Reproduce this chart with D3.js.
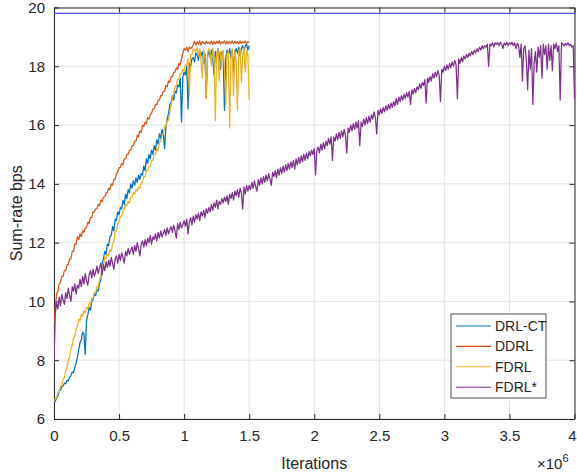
<!DOCTYPE html>
<html><head><meta charset="utf-8">
<script src="https://cdn.jsdelivr.net/npm/d3@7"></script>
<style>
body{margin:0;background:#fff}
svg{display:block}
text{font-family:"Liberation Sans",Arial,Helvetica,sans-serif;fill:#262626}
</style>
</head><body>
<svg id="c" width="577" height="475"></svg>
<script>
// ---------------- data ----------------
const xTicks = [0, 0.5, 1, 1.5, 2, 2.5, 3, 3.5, 4];        // iterations, x10^6
const yTicks = [6, 8, 10, 12, 14, 16, 18, 20];
const seriesNames = ["DRL-CT", "DDRL", "FDRL", "FDRL*"];
const seriesColors = ["#0072BD", "#D95319", "#EDB120", "#7E2F8E"];
const upperBound = 19.8;
const stepShort = 0.01;   // x10^6 iterations between samples (first three series)
const stepLong = 0.01;    // x10^6 iterations between samples (FDRL*)

const drlCT = [
  6.55,6.6,6.72,6.78,6.95,6.98,7.1,7.12,7.22,7.2,
  7.32,7.3,7.42,7.48,7.6,7.58,7.75,7.9,8.1,8.35,
  8.6,8.7,8.95,8.9,8.2,9.35,9.55,9.8,9.7,10.0,
  10.05,10.25,10.2,10.4,10.35,10.6,10.75,11.3,11.45,11.7,
  11.6,11.95,11.9,12.2,12.25,12.55,12.4,12.8,12.75,13.05,
  12.95,13.2,13.15,13.45,13.3,13.65,13.5,13.8,13.7,14.0,
  13.85,14.1,13.95,14.2,14.05,14.3,14.15,14.35,14.3,14.6,
  14.45,14.85,14.7,15.0,14.85,15.15,15.0,15.3,15.15,15.5,
  15.35,15.7,15.55,15.85,15.7,15.2,15.95,16.2,16.4,16.7,
  16.75,17.0,16.85,17.15,17.1,17.35,17.3,17.6,16.1,17.65,
  17.8,17.7,18.0,16.55,18.1,18.0,18.25,18.3,18.15,18.45,
  18.4,18.2,18.55,18.35,18.5,18.1,18.45,16.95,18.35,18.55,
  18.3,18.55,18.2,17.7,18.5,18.3,18.6,18.4,17.9,18.5,
  18.35,16.5,18.25,18.55,18.4,18.6,18.3,18.55,17.8,18.5,
  18.6,18.45,18.65,18.35,18.6,18.7,18.5,18.7,18.75,18.55,
  18.7
];
const ddrl = [
  9.2,9.8,10.25,10.35,10.6,10.65,10.85,10.85,11.05,11.05,
  11.25,11.25,11.45,11.45,11.7,11.7,11.95,11.95,12.2,12.1,
  12.3,12.2,12.4,12.35,12.5,12.5,12.7,12.65,12.85,12.85,
  13.05,13.05,13.15,13.15,13.3,13.25,13.45,13.4,13.55,13.55,
  13.7,13.7,13.85,13.8,14.0,13.95,14.15,14.15,14.35,14.4,
  14.55,14.55,14.7,14.65,14.85,14.85,15.0,15.0,15.15,15.15,
  15.3,15.3,15.45,15.45,15.65,15.6,15.8,15.75,16.0,15.95,
  16.1,16.05,16.25,16.2,16.35,16.4,16.55,16.55,16.7,16.7,
  16.85,16.85,17.0,17.0,17.15,17.15,17.35,17.3,17.5,17.45,
  17.65,17.65,17.8,17.8,17.95,17.9,18.1,18.05,18.25,18.45,
  18.6,18.55,18.65,18.5,18.65,18.6,18.65,18.72,18.85,18.72,
  18.84,18.75,18.86,18.72,18.84,18.8,18.76,18.85,18.78,18.82,
  18.76,18.86,18.74,18.84,18.76,18.85,18.78,18.87,18.75,18.83,
  18.79,18.86,18.76,18.85,18.77,18.84,18.79,18.86,18.76,18.85,
  18.78,18.84,18.77,18.86,18.78,18.84,18.8,18.86,18.78,18.84,
  18.82
];
const fdrl = [
  6.6,6.7,6.72,6.9,6.92,7.1,7.12,7.35,7.4,7.65,
  7.75,8.0,8.1,8.4,8.5,8.75,8.8,9.05,9.15,9.4,
  9.35,9.55,9.5,9.7,9.6,9.8,9.75,9.95,9.9,10.1,
  10.1,10.3,10.3,10.5,10.5,10.75,10.85,11.15,11.25,11.5,
  11.45,11.6,11.55,11.75,11.7,11.95,12.05,12.35,12.4,12.65,
  12.7,12.9,12.9,13.1,13.15,13.3,13.25,13.4,13.35,13.55,
  13.55,13.7,13.65,13.8,13.75,13.9,13.85,14.05,14.05,14.25,
  14.25,14.45,14.45,14.6,14.6,14.8,14.8,15.0,15.0,15.2,
  15.15,15.4,15.45,15.65,15.7,15.95,15.95,16.15,16.15,16.45,
  16.65,16.95,17.05,17.3,17.35,17.55,17.55,17.75,17.75,17.9,
  17.85,18.05,18.05,18.25,17.0,18.4,18.4,18.6,18.55,18.5,
  18.65,18.35,18.6,18.15,17.6,18.55,18.25,16.9,18.45,18.6,
  18.45,18.05,18.6,18.25,16.15,18.45,18.6,17.5,18.5,18.15,
  18.55,17.9,16.7,18.45,18.5,15.9,18.25,18.6,17.0,18.5,
  18.15,16.5,18.55,18.6,17.45,18.35,18.65,17.8,18.55,18.4,
  16.85
];
const fdrlStar = [
  7.9,9.6,9.95,9.75,10.15,9.85,10.25,10.05,9.9,10.3,
  10.1,10.45,10.2,10.0,10.5,10.35,10.6,10.25,10.55,10.45,
  10.75,10.5,10.85,10.6,10.95,10.7,10.55,10.9,11.05,10.8,
  11.1,10.85,11.0,11.2,10.95,11.15,11.3,10.9,11.25,11.05,
  11.35,11.15,11.4,11.2,11.5,11.3,11.1,11.45,11.55,11.3,
  11.6,11.4,11.65,11.5,11.3,11.7,11.55,11.8,11.6,11.75,
  11.85,11.6,11.9,11.7,12.0,11.8,11.55,11.95,12.05,11.85,
  12.1,11.9,12.15,12.0,12.25,11.95,12.2,12.1,12.3,12.05,
  12.35,12.15,12.4,12.2,12.3,12.45,12.25,12.5,12.3,12.45,
  12.55,12.35,12.6,12.4,12.15,12.65,12.45,12.7,12.5,12.6,
  12.75,12.55,12.8,12.3,12.7,12.85,12.6,12.9,12.7,12.95,
  12.8,13.0,12.75,13.05,12.9,13.1,12.85,13.15,13.0,13.2,
  13.05,13.3,13.1,13.35,13.2,13.45,13.15,13.4,13.3,13.5,
  13.35,13.55,13.4,13.6,13.3,13.65,13.5,13.7,13.45,13.75,
  13.6,13.8,13.55,13.85,13.7,13.15,13.9,13.65,13.95,13.75,
  13.95,13.8,14.05,13.85,14.1,13.9,13.75,14.15,13.95,14.2,
  14.0,14.25,14.05,14.3,14.1,14.35,14.15,13.95,14.4,14.25,
  14.45,14.2,14.5,14.3,14.55,14.35,14.6,14.4,14.65,14.45,
  14.7,14.5,14.75,14.55,14.8,14.5,14.85,14.65,14.9,14.7,
  14.95,14.75,15.0,14.8,15.05,14.85,15.1,14.95,15.15,15.0,
  15.2,14.3,15.15,15.25,15.05,15.35,15.15,15.4,15.2,15.45,
  15.3,15.55,15.35,15.6,14.8,15.6,15.45,15.7,15.5,15.75,
  15.55,15.8,15.6,15.85,15.65,15.05,15.9,15.75,16.0,15.8,
  16.05,15.85,16.1,15.9,16.15,15.3,16.1,15.95,16.2,16.0,
  16.25,16.05,16.3,16.1,16.35,16.2,16.45,16.25,15.7,16.5,
  16.35,16.55,16.4,16.6,16.45,16.65,16.5,16.7,16.55,16.75,
  16.6,16.8,16.65,16.9,16.7,16.95,16.8,17.0,16.85,17.05,
  16.9,17.1,16.95,17.15,16.7,17.2,17.05,17.25,17.1,17.3,
  17.2,17.4,17.25,17.45,17.35,17.55,16.75,17.6,17.45,17.65,
  17.5,17.75,17.6,17.8,17.65,17.85,17.7,16.8,17.9,17.8,
  18.0,17.85,18.05,17.9,18.1,17.95,18.15,18.0,18.2,18.05,
  16.9,18.25,18.1,18.3,18.15,18.35,18.25,18.4,18.3,18.45,
  18.35,18.5,18.4,18.55,18.45,18.6,18.5,18.65,18.55,18.7,
  18.6,18.7,18.65,18.75,18.0,18.75,18.7,18.8,18.65,18.8,
  18.75,18.8,18.7,18.82,18.75,18.6,18.8,18.72,18.82,18.7,
  18.8,18.75,18.82,18.7,18.8,18.6,18.78,18.7,18.3,18.75,
  17.5,18.6,18.7,18.2,17.2,18.55,17.9,18.6,16.7,18.1,
  18.5,17.8,18.65,18.3,18.7,17.6,18.75,18.4,18.7,17.9,
  18.75,18.2,18.7,17.85,18.75,18.6,18.8,18.5,18.7,16.85,
  18.8,18.75,18.7,18.78,18.72,18.8,18.7,18.75,18.65,18.7,
  16.9
];

// ---------------- chart ----------------
const svg = d3.select("#c");
const L = 54, R = 574.5, T = 7.5, B = 419;
const x = d3.scaleLinear().domain([0, 4]).range([L, R]);
const y = d3.scaleLinear().domain([6, 20]).range([B, T]);
const axisCol = "#262626";

// grid
const grid = svg.append("g");
grid.selectAll("line.gx").data(xTicks).enter().append("line")
  .attr("x1", d => x(d)).attr("x2", d => x(d)).attr("y1", T).attr("y2", B)
  .attr("stroke", "#e3e3e3").attr("stroke-width", 1);
grid.selectAll("line.gy").data(yTicks).enter().append("line")
  .attr("x1", L).attr("x2", R).attr("y1", d => y(d)).attr("y2", d => y(d))
  .attr("stroke", "#e3e3e3").attr("stroke-width", 1);

// axes
const fmt = d3.format("~g");
const gB = svg.append("g").attr("transform", `translate(0,${B})`)
  .call(d3.axisBottom(x).tickValues(xTicks).tickFormat(fmt).tickSizeInner(-5).tickSizeOuter(0).tickPadding(11));
const gT = svg.append("g").attr("transform", `translate(0,${T})`)
  .call(d3.axisTop(x).tickValues(xTicks).tickFormat("").tickSizeInner(-5).tickSizeOuter(0));
const gL = svg.append("g").attr("transform", `translate(${L},0)`)
  .call(d3.axisLeft(y).tickValues(yTicks).tickFormat(fmt).tickSizeInner(-5).tickSizeOuter(0).tickPadding(9));
const gR = svg.append("g").attr("transform", `translate(${R},0)`)
  .call(d3.axisRight(y).tickValues(yTicks).tickFormat("").tickSizeInner(-5).tickSizeOuter(0));
[gB, gT, gL, gR].forEach(g => {
  g.select(".domain").attr("stroke", axisCol).attr("stroke-width", 1);
  g.selectAll(".tick line").attr("stroke", axisCol).attr("stroke-width", 1);
  g.selectAll(".tick text").attr("fill", axisCol).style("font-size", "15px")
    .style("font-family", "'Liberation Sans', Arial, sans-serif");
});
gB.selectAll(".tick text").filter(d => d === 4).attr("dx", -2.5);

// clip
svg.append("clipPath").attr("id", "clip").append("rect")
  .attr("x", L).attr("y", T - 1).attr("width", R - L + 1).attr("height", B - T + 2);
const plot = svg.append("g").attr("clip-path", "url(#clip)");

// upper bound line
plot.append("line").attr("x1", x(0)).attr("x2", x(4))
  .attr("y1", y(upperBound)).attr("y2", y(upperBound))
  .attr("stroke", "#4b4bff").attr("stroke-width", 1.1);

const allSeries = [
  {vals: drlCT, step: stepShort},
  {vals: ddrl, step: stepShort},
  {vals: fdrl, step: stepShort},
  {vals: fdrlStar, step: stepLong}
];
const line = d3.line().x(d => x(d[0])).y(d => y(d[1]));
allSeries.forEach((s, k) => {
  const pts = s.vals.map((v, i) => [i * s.step, v]);
  plot.append("path").datum(pts).attr("d", line)
    .attr("fill", "none").attr("stroke", seriesColors[k])
    .attr("stroke-width", 1.25).attr("stroke-linejoin", "round");
});

// axis labels
svg.append("text").attr("x", (L + R) / 2).attr("y", 469).attr("text-anchor", "middle")
  .style("font-size", "16px").text("Iterations");
svg.append("text").attr("transform", `translate(22,${(T + B) / 2}) rotate(-90)`)
  .attr("text-anchor", "middle").style("font-size", "16px").text("Sum-rate bps");
const mult = svg.append("text").attr("x", 537).attr("y", 469).style("font-size", "15px");
mult.append("tspan").text("\u00d710");
mult.append("tspan").attr("dy", -7).style("font-size", "11px").text("6");

// legend
const lg = svg.append("g");
lg.append("rect").attr("x", 451).attr("y", 314).attr("width", 95).attr("height", 84)
  .attr("fill", "#fff").attr("stroke", axisCol).attr("stroke-width", 0.8);
seriesNames.forEach((n, i) => {
  const yy = 326 + i * 20.4;
  lg.append("line").attr("x1", 456).attr("x2", 491).attr("y1", yy).attr("y2", yy)
    .attr("stroke", seriesColors[i]).attr("stroke-width", 1.1);
  lg.append("text").attr("x", 495).attr("y", yy).attr("dy", "0.35em")
    .style("font-size", "14px").text(n);
});
</script>
</body></html>
